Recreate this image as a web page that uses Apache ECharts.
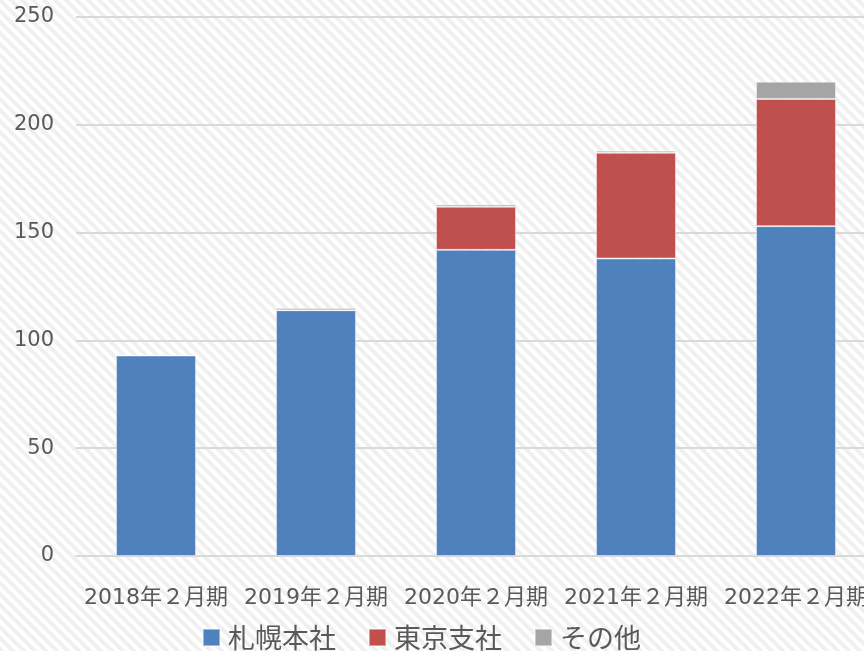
<!DOCTYPE html>
<html>
<head>
<meta charset="utf-8">
<script src="https://cdn.jsdelivr.net/npm/echarts@6/dist/echarts.min.js"></script>
<style>
  html, body { margin: 0; padding: 0; background: #fff; }
  #chart { width: 864px; height: 651px; }
</style>
</head>
<body>
<div id="chart"></div>
<script>
const periods = ['2018年２月期', '2019年２月期', '2020年２月期', '2021年２月期', '2022年２月期']
const sapporo = [93, 114, 142, 138, 153]
const tokyo = [0, 0, 20, 49, 59]
const others = [0, 1, 1, 1, 8]
const yTicks = { min: 0, max: 250, interval: 50 }

// diagonal stripe background
const makeStripes = () => {
  const s = 11
  const c = document.createElement('canvas')
  c.width = s
  c.height = s
  const ctx = c.getContext('2d')
  ctx.fillStyle = '#ffffff'
  ctx.fillRect(0, 0, s, s)
  ctx.strokeStyle = '#f0f0f0'
  ctx.lineWidth = 4
  ctx.beginPath()
  for (let k = -s; k <= s; k += s) {
    ctx.moveTo(k - s, -s)
    ctx.lineTo(k + 2 * s, 2 * s)
  }
  ctx.stroke()
  return c
}

const chart = echarts.init(document.getElementById('chart'))
const font = '"DejaVu Sans", "Noto Sans CJK JP", sans-serif'
const cjkFont = '"Noto Sans CJK JP", sans-serif'

const barStyle = (color) => ({
  color,
  borderColor: 'rgba(255,255,255,0.45)',
  borderWidth: 1
})

chart.setOption({
  backgroundColor: { image: makeStripes(), repeat: 'repeat' },
  animation: false,
  textStyle: { fontFamily: font },
  grid: { left: 76, width: 800, top: 17, bottom: 95, outerBoundsMode: 'none', containLabel: false },
  legend: {
    left: 197,
    top: 619,
    itemWidth: 17,
    itemHeight: 17,
    itemGap: 32,
    icon: 'rect',
    textStyle: { fontSize: 27, color: '#595959', fontFamily: cjkFont, padding: [0, 0, 0, 3] },
    data: ['札幌本社', '東京支社', 'その他']
  },
  xAxis: {
    type: 'category',
    data: periods,
    axisLine: { lineStyle: { color: '#d9d9d9', width: 2 } },
    axisTick: { show: false },
    axisLabel: { color: '#595959', fontSize: 22, margin: 31, interval: 0, fontFamily: font }
  },
  yAxis: {
    type: 'value',
    min: yTicks.min,
    max: yTicks.max,
    interval: yTicks.interval,
    axisLine: { show: false },
    axisTick: { show: false },
    axisLabel: { color: '#595959', fontSize: 21, margin: 22, fontFamily: font },
    splitLine: { lineStyle: { color: '#d9d9d9', width: 2 } }
  },
  series: [
    { name: '札幌本社', type: 'bar', stack: 'total', barWidth: '50%', data: sapporo, itemStyle: barStyle('#4f81bd') },
    { name: '東京支社', type: 'bar', stack: 'total', data: tokyo, itemStyle: barStyle('#c0504d') },
    { name: 'その他', type: 'bar', stack: 'total', data: others, itemStyle: barStyle('#a5a5a5') }
  ]
})
</script>
</body>
</html>
